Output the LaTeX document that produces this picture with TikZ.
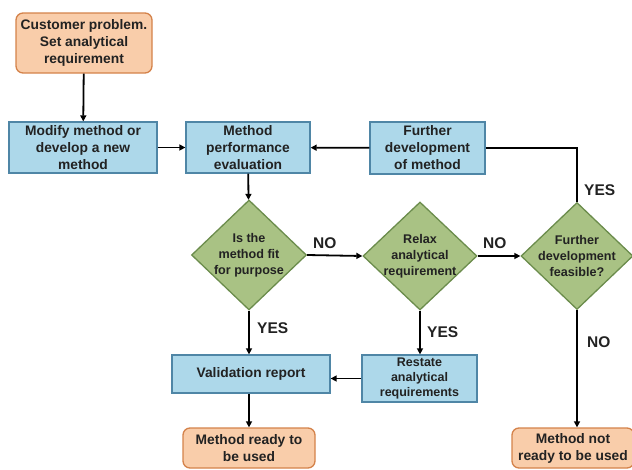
\documentclass[tikz,border=0pt]{standalone}
\usepackage{fontspec}
\setmainfont{Liberation Sans}
\usetikzlibrary{shapes.geometric,arrows.meta}
\definecolor{ofill}{HTML}{F9CDAA}
\definecolor{odraw}{HTML}{D4824A}
\definecolor{bfill}{HTML}{ADD8EA}
\definecolor{bdraw}{HTML}{4F86A6}
\definecolor{gfill}{HTML}{A9C284}
\definecolor{gdraw}{HTML}{6B8C4C}
\definecolor{txt}{HTML}{222222}
\tikzset{
  base/.style={font=\bfseries\fontsize{13.8}{17}\selectfont, text=txt, align=center, line width=1.3pt, inner sep=0pt},
  obox/.style={base, rectangle, rounded corners=7pt, draw=odraw, fill=ofill},
  bbox/.style={base, rectangle, draw=bdraw, fill=bfill},
  dia/.style={base, diamond, draw=gdraw, fill=gfill, inner sep=-12pt, aspect=1.05, font=\bfseries\fontsize{12.6}{16}\selectfont},
  conn/.style={line width=1.8pt, black},
  arr/.style={conn, -{Triangle[length=6pt,width=6pt]}},
  lab/.style={font=\bfseries\fontsize{15.5}{17}\selectfont, text=txt, inner sep=0pt}
}
\begin{document}
\begin{tikzpicture}[x=1pt,y=-1pt]
\useasboundingbox (0,0) rectangle (632,469);
\node[obox, minimum width=136pt, minimum height=60pt] (cust) at (84,43) {Customer problem.\\Set analytical\\requirement};
\node[bbox, minimum width=148pt, minimum height=51pt] (mod) at (83,147.5) {Modify method or\\develop a new\\method};
\node[bbox, minimum width=124pt, minimum height=51pt] (mpe) at (248,147.5) {Method\\performance\\evaluation};
\node[bbox, minimum width=115pt, minimum height=52pt] (fdm) at (427.5,148) {Further\\development\\of method};
\node[dia, minimum width=115pt, minimum height=110pt] (d1) at (249,255) {Is the\\method fit\\for purpose};
\node[dia, minimum width=114pt, minimum height=108pt] (d2) at (420,256) {Relax\\analytical\\requirement};
\node[dia, minimum width=112pt, minimum height=107pt] (d3) at (577,256) {Further\\development\\feasible?};
\node[bbox, minimum width=158pt, minimum height=38pt] (vr) at (251,374) {Validation report};
\node[bbox, minimum width=115pt, minimum height=47pt, font=\bfseries\fontsize{12.5}{15}\selectfont] (rs) at (419.5,378.5) {Restate\\analytical\\requirements};
\node[obox, minimum width=132pt, minimum height=40pt] (ready) at (249,448) {Method ready to\\be used};
\node[obox, minimum width=122pt, minimum height=40pt] (nready) at (573,448) {Method not\\ready to be used};

\draw[arr] (cust) -- (mod);
\draw[arr] (mod) -- (mpe);
\draw[arr] (mpe) -- (d1);
\draw[arr] (fdm) -- (mpe);
\draw[conn] (d3.north) |- (fdm.east);
\draw[arr] (d1.east) -- (d2.west);
\draw[arr] (d2.east) -- (d3.west);
\draw[arr] (d1.south) -- (vr.north -| d1.south);
\draw[arr] (d2.south) -- (rs.north -| d2.south);
\draw[arr] (rs.west) -- (vr.east |- rs.west);
\draw[arr] (vr.south -| d1.south) -- (ready.north -| d1.south);
\draw[arr] (d3.south) -- (nready.north -| d3.south);

\node[lab, anchor=west] (yes1) at (584,190) {YES};
\node[lab, anchor=west] (no1) at (313,243) {NO};
\node[lab, anchor=west] (no2) at (483,243) {NO};
\node[lab, anchor=west] (yes2) at (257,328) {YES};
\node[lab, anchor=west] (yes3) at (427,332) {YES};
\node[lab, anchor=west] (no3) at (587,342) {NO};
\end{tikzpicture}
\end{document}
